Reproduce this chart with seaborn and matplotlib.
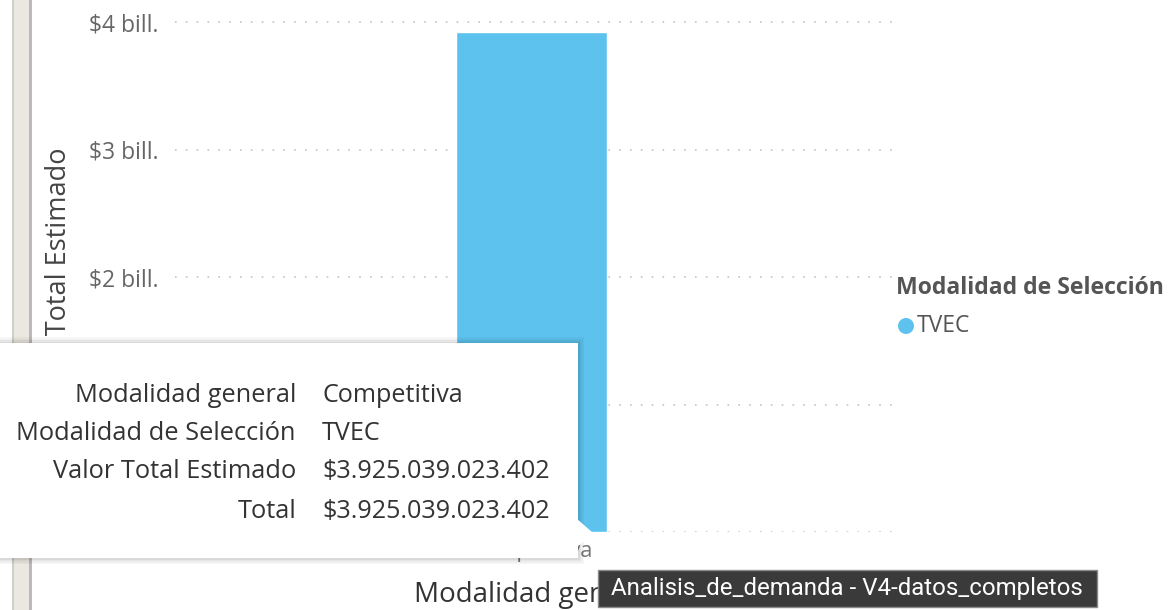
import pandas as pd
import seaborn as sns
import matplotlib.pyplot as plt
import matplotlib.patches as mpatches
import numpy as np

# data
modalidad_general = ["Competitiva"]
modalidad_seleccion = ["TVEC"]
valor_total = [3925039023402]
y_ticks = [0, 1e12, 2e12, 3e12, 4e12]
y_tick_labels = ["$0 bill.", "$1 bill.", "$2 bill.", "$3 bill.", "$4 bill."]
tooltip_labels = ["Modalidad general", "Modalidad de Selección", "Valor Total Estimado", "Total"]
tooltip_values = ["Competitiva", "TVEC", "$3.925.039.023.402", "$3.925.039.023.402"]
window_title = "Analisis_de_demanda - V4-datos_completos"

bar_color = "#5DC3EE"
W, H = 1170, 610


def fx(x):
    return x / W


def fy(y):
    return 1 - y / H


sns.set_style("white")
plt.rcParams['font.family'] = ['Open Sans', 'DejaVu Sans']

df = pd.DataFrame({"Modalidad general": modalidad_general,
                   "Modalidad de Selección": modalidad_seleccion,
                   "Valor Total Estimado": valor_total})

fig = plt.figure(figsize=(11.7, 6.1), dpi=100)
ax = fig.add_axes([fx(175), fy(532), fx(895) - fx(175), (532 - 10) / H])

sns.barplot(data=df, x="Modalidad general", y="Valor Total Estimado",
            color=bar_color, saturation=1, width=0.209, ax=ax, zorder=3)
ax.set_ylim(0, 4e12 * 522 / 510)
ax.set_xlim(-0.495, 0.505)
ax.set_yticks(y_ticks)
ax.set_yticklabels(y_tick_labels, fontsize=16.5, color="#666666")
ax.tick_params(axis="y", length=0, pad=12)
ax.tick_params(axis="x", length=0, pad=6.5, labelsize=15.8, labelcolor="#777777")
ax.yaxis.grid(True, color="#c4c4c4", linestyle=(0, (1, 5.5)), linewidth=1.2)
ax.xaxis.grid(False)
for s in ax.spines.values():
    s.set_visible(False)
ax.set_ylabel("Valor Total Estimado", fontsize=19.5, color="#444444")
ax.yaxis.set_label_coords(-0.141, 0.487)
ax.set_xlabel("Modalidad general", fontsize=20, color="#333333", labelpad=14)

# left strip of the report canvas
fig.patches.append(mpatches.Rectangle((fx(12), 0), fx(30) - fx(12), 1, transform=fig.transFigure,
                                      facecolor="#ebe8e1", edgecolor="none", zorder=1))
fig.add_artist(plt.Line2D([fx(12.5), fx(12.5)], [0, 1], color="#c9c9c9", lw=1.2))
fig.add_artist(plt.Line2D([fx(29.5), fx(29.5)], [0, 1], color="#b5b5b5", lw=2))

# legend
fig.text(fx(896), fy(288), "Modalidad de Selección", fontsize=16.6, fontweight="bold",
         color="#555555", va="center", ha="left")
fig.add_artist(mpatches.Ellipse((fx(906), fy(326)), 16 / W, 16 / H, transform=fig.transFigure,
                                facecolor=bar_color, edgecolor="none"))
fig.text(fx(917), fy(326), modalidad_seleccion[0], fontsize=16.5, color="#555555",
         va="center", ha="left")

# hover tooltip with soft shadow
for i, a in enumerate([0.03, 0.03, 0.04, 0.05]):
    off = 6 - i * 1.5
    fig.patches.append(mpatches.Rectangle((fx(-5), fy(558 + off)), fx(578 + off) - fx(-5),
                                          fy(343 - off) - fy(558 + off), transform=fig.transFigure,
                                          facecolor="black", alpha=a, edgecolor="none", zorder=5))
fig.patches.append(mpatches.Rectangle((fx(-5), fy(558)), fx(578) - fx(-5), fy(343) - fy(558),
                                      transform=fig.transFigure, facecolor="white",
                                      edgecolor="none", zorder=6))
fig.patches.append(mpatches.Polygon([(fx(576), fy(518)), (fx(593), fy(533)), (fx(576), fy(548))],
                                    closed=True, transform=fig.transFigure, facecolor="white",
                                    edgecolor="none", zorder=6))
rows_y = [396, 434, 471, 511]
for lab, val, yy in zip(tooltip_labels, tooltip_values, rows_y):
    fig.text(fx(296), fy(yy), lab, fontsize=18.3, color="#333333", ha="right", va="center", zorder=7)
    fig.text(fx(322), fy(yy), val, fontsize=18.1, color="#333333", ha="left", va="center", zorder=7)

# window title tooltip
fig.patches.append(mpatches.Rectangle((fx(598), fy(607)), fx(1097) - fx(598), fy(570) - fy(607),
                                      transform=fig.transFigure, facecolor="#3a3a3a",
                                      edgecolor="#8a8a8a", linewidth=1, zorder=8))
fig.text(fx(611), fy(589), window_title, fontsize=17.3, color="white", ha="left", va="center",
         family=["Roboto", "DejaVu Sans"], zorder=9)

fig.savefig("out.png", dpi=100)
